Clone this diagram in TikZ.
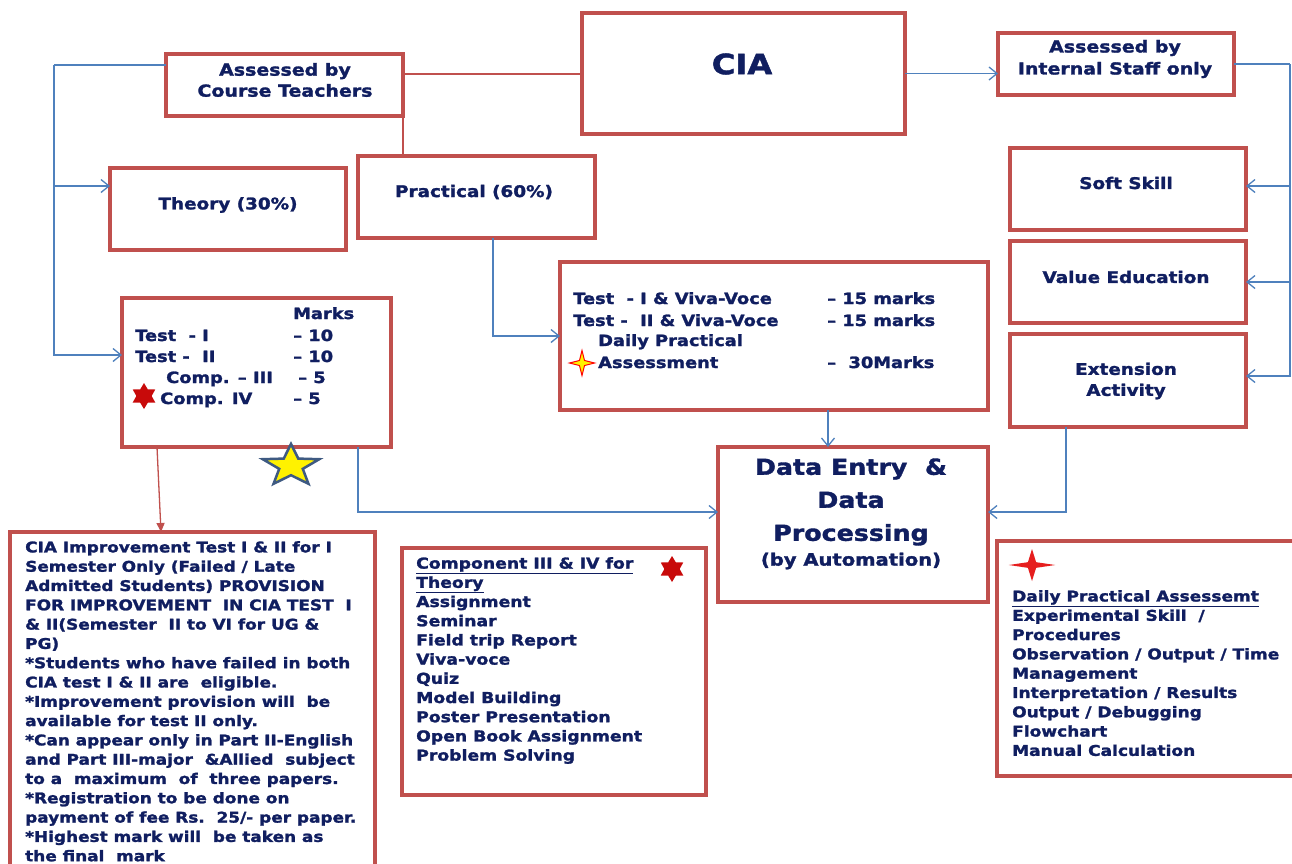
\documentclass[tikz,border=0pt]{standalone}
\usepackage{fontspec}
\setmainfont{DejaVu Sans}[FakeStretch=1.15, BoldFeatures={FakeBold=1.6}]
\usetikzlibrary{arrows.meta,shapes.geometric,calc}
\definecolor{boxred}{HTML}{C0504D}
\definecolor{lineblue}{HTML}{4F81BD}
\definecolor{txtnavy}{RGB}{16,30,96}
\definecolor{starred}{RGB}{200,10,10}
\definecolor{staredge}{RGB}{62,90,130}
\newcommand{\fsz}[2]{\fontsize{#1}{#2}\selectfont}
\begin{document}
\begin{tikzpicture}[x=1pt,y=-1pt,
  box/.style={draw=boxred, line width=3.2pt, fill=white, inner sep=0pt, outer sep=0pt},
  lbl/.style={text=txtnavy, font=\bfseries, inner sep=0pt, align=center},
  lst/.style={text=txtnavy, inner sep=0pt, align=left, anchor=north west},
  row/.style={text=txtnavy, inner sep=0pt, anchor=base west, font=\bfseries\fsz{15.5}{20}},
  blueline/.style={draw=lineblue, line width=1.3pt},
  barrow/.style={blueline, -{Straight Barb[length=8pt,width=13pt]}},
  redline/.style={draw=boxred, line width=1.3pt},
  redarrow/.style={redline, -{Triangle[length=9pt,width=8pt]}},
  sixstar/.style={star, star points=6, star point ratio=1.7, minimum size=26pt, inner sep=0pt, fill=starred},
]
\path[use as bounding box] (0,0) rectangle (1292,863);
\clip (0,0) rectangle (1292,863);
\fill[white] (0,0) rectangle (1292,863);

% boxes
\node[box, minimum width=237pt, minimum height=62pt] (ct) at (284.5,85) {};
\node[box, minimum width=323pt, minimum height=121pt] (cia) at (743.5,73.5) {};
\node[box, minimum width=236pt, minimum height=62pt] (is) at (1116,64) {};
\node[box, minimum width=236pt, minimum height=82pt] (th) at (228,209) {};
\node[box, minimum width=237pt, minimum height=82pt] (pr) at (476.5,197) {};
\node[box, minimum width=236pt, minimum height=82pt] (ss) at (1128,189) {};
\node[box, minimum width=236pt, minimum height=82pt] (ve) at (1128,282) {};
\node[box, minimum width=236pt, minimum height=93pt] (ex) at (1128,380.5) {};
\node[box, minimum width=269pt, minimum height=149pt] (mk) at (256.5,372.5) {};
\node[box, minimum width=428pt, minimum height=148pt] (pd) at (774,336) {};
\node[box, minimum width=270pt, minimum height=155pt] (de) at (853,524.5) {};
\node[box, minimum width=365pt, minimum height=353pt] (imp) at (192.5,708.5) {};
\node[box, minimum width=304pt, minimum height=247pt] (cmp) at (554,671.5) {};
\node[box, minimum width=308pt, minimum height=235pt] (dp) at (1151,658.5) {};

% box labels
\node[lbl, font=\bfseries\fsz{16.5}{21}] (tct) at (285,80) {Assessed by\\Course Teachers};
\node[lbl, font=\bfseries\fsz{28}{30}] (tcia) at (742,64) {CIA};
\node[lbl, font=\bfseries\fsz{16.5}{22}] (tis) at (1115,59) {Assessed by\\Internal Staff only};
\node[lbl, font=\bfseries\fsz{16}{20}] (tth) at (228,205) {Theory (30\%)};
\node[lbl, font=\bfseries\fsz{16}{20}] (tpr) at (474,192) {Practical (60\%)};
\node[lbl, font=\bfseries\fsz{16}{20}] (tss) at (1126,183) {Soft Skill};
\node[lbl, font=\bfseries\fsz{16}{20}] (tve) at (1126,277) {Value Education};
\node[lbl, font=\bfseries\fsz{16}{21}] (tex) at (1126,381) {Extension\\Activity};
\node[lbl, font=\bfseries\fsz{22}{33}] (tde) at (851,502) {Data Entry \ \&\\Data\\Processing};
\node[lbl, font=\bfseries\fsz{17}{20}] (tauto) at (851,561) {(by Automation)};

% marks box rows
\node[row] (m0) at (293,319) {Marks};
\node[row] (m1) at (135,341) {Test\ \ - I};
\node[row] (m1r) at (293,341) {– 10};
\node[row] (m2) at (135,362) {Test -\ \ II};
\node[row] (m2r) at (293,362) {– 10};
\node[row] (m3) at (166,383) {Comp. – III};
\node[row] (m3r) at (298,383) {– 5};
\node[row] (m4) at (160,404) {Comp. IV};
\node[row] (m4r) at (293,404) {– 5};

% practical details rows
\node[row] (p1) at (573,304) {Test\ \ - I \& Viva-Voce};
\node[row] (p1r) at (827,304) {– 15 marks};
\node[row] (p2) at (573,326) {Test -\ \ II \& Viva-Voce};
\node[row] (p2r) at (827,326) {– 15 marks};
\node[row] (p3) at (598,346) {Daily Practical};
\node[row] (p4) at (598,368) {Assessment};
\node[row] (p4r) at (827,368) {–\ \ 30Marks};

% lists
\node[lst, font=\bfseries\fsz{14.7}{19.3}] (timp) at (25,541) {CIA Improvement Test I \& II for I\\
Semester Only (Failed / Late\\
Admitted Students) PROVISION\\
FOR IMPROVEMENT\ \ IN CIA TEST\ \ I\\
\& II(Semester\ \ II to VI for UG \&\\
PG)\\
*Students who have failed in both\\
CIA test I \& II are\ \ eligible.\\
*Improvement provision will\ \ be\\
available for test II only.\\
*Can appear only in Part II-English\\
and Part III-major\ \ \&Allied\ \ subject\\
to a\ \ maximum\ \ of\ \ three papers.\\
*Registration to be done on\\
payment of fee Rs.\ \ 25/- per paper.\\
*Highest mark will\ \ be taken as\\
the final\ \ mark};

\node[lst, font=\bfseries\fsz{15}{19.2}] (tcmp) at (416,557) {\underline{Component III \& IV for}\\
\underline{Theory}\\
Assignment\\
Seminar\\
Field trip Report\\
Viva-voce\\
Quiz\\
Model Building\\
Poster Presentation\\
Open Book Assignment\\
Problem Solving};

\node[lst, font=\bfseries\fsz{14.8}{19.3}] (tdp) at (1012,590) {\underline{Daily Practical Assessemt}\\
Experimental Skill\ \ /\\
Procedures\\
Observation / Output / Time\\
Management\\
Interpretation / Results\\
Output / Debugging\\
Flowchart\\
Manual Calculation};

% stars
\node[star, star points=5, star point ratio=2.4, minimum size=44pt, inner sep=0pt,
      fill=yellow, draw=staredge, line width=2.5pt, xscale=1.35, transform shape] (ystar) at (291,466) {};
\node[sixstar] (s6a) at (144,396) {};
\node[sixstar] (s6b) at (672,569) {};
\node[star, star points=4, star point ratio=3.5, minimum size=25pt, inner sep=0pt,
      fill=yellow, draw=red, line width=1pt] (s4a) at (582,363) {};
\node[star, star points=4, star point ratio=4, minimum size=32pt, inner sep=0pt,
      fill={rgb,255:red,230;green,30;blue,30}, xscale=1.45, transform shape] (s4b) at (1032,565) {};

% connectors
\coordinate (ctL) at (54,65);
\coordinate (isR) at (1290,64);
\draw[redline] ([yshift=-20pt]ct.north east) -- ([yshift=-20pt]ct.north east -| cia.west);
\draw[redline] (ct.south east) -- (ct.south east |- pr.north);
\draw[blueline] ([yshift=-11pt]ct.north west) -- (ctL);
\draw[barrow] (ctL) |- ([yshift=17.5pt]mk.west);
\draw[barrow] ([yshift=23pt]th.west -| ctL) -- ([yshift=23pt]th.west);
\draw[barrow] (cia.east) -- (cia.east -| is.west);
\draw[blueline] (is.east) -- (isR);
\draw[barrow] (isR) |- ([yshift=4.5pt]ex.east);
\draw[barrow] ([yshift=3pt]ss.east -| isR) -- ([yshift=3pt]ss.east);
\draw[barrow] (ve.east -| isR) -- (ve.east);
\draw[barrow] ([xshift=16.5pt]pr.south) |- (pd.west);
\draw[barrow] ([xshift=54pt]pd.south) -- ([xshift=54pt]pd.south |- de.north);
\draw[barrow] ([xshift=101.5pt]mk.south) |- ([yshift=12.5pt]de.west);
\draw[barrow] ([xshift=-62pt]ex.south) |- ([yshift=12.5pt]de.east);
\draw[redarrow] ([xshift=-99.5pt]mk.south) -- ([xshift=-31.5pt]imp.north);
\end{tikzpicture}
\end{document}
